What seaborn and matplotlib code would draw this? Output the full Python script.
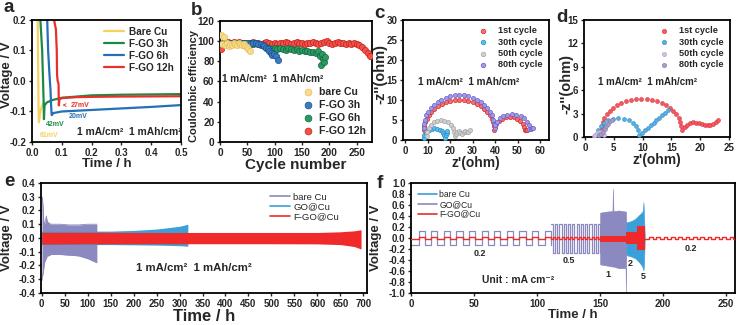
import matplotlib
matplotlib.use('Agg')
import matplotlib.pyplot as plt
from matplotlib.lines import Line2D
import numpy as np
import seaborn as sns

sns.set_theme(style='ticks')
plt.rcParams['font.family'] = ['Liberation Sans', 'DejaVu Sans']
plt.rcParams['font.weight'] = 'bold'
plt.rcParams['axes.labelweight'] = 'bold'
plt.rcParams['axes.unicode_minus'] = False
plt.rcParams['axes.linewidth'] = 1.3

# ---------------- data ----------------
# (a) voltage profiles of Li nucleation
a_bare_t = [0.019, 0.020, 0.021, 0.022, 0.023, 0.030, 0.040]
a_bare_v = [0.20, 0.10, 0.00, -0.10, -0.135, -0.09, -0.07]
a_3h_t = [0.028, 0.031, 0.034, 0.037, 0.039, 0.040, 0.042, 0.05, 0.07, 0.10, 0.20, 0.30, 0.50]
a_3h_v = [0.20, 0.15, 0.10, 0.0, -0.07, -0.125, -0.08, -0.07, -0.062, -0.055, -0.047, -0.045, -0.043]
a_6h_t = [0.051, 0.054, 0.058, 0.062, 0.064, 0.066, 0.072, 0.10, 0.20, 0.30, 0.40, 0.50]
a_6h_v = [0.20, 0.10, 0.03, -0.03, -0.08, -0.112, -0.105, -0.10, -0.095, -0.09, -0.085, -0.079]
a_12h_t = [0.074, 0.080, 0.083, 0.084, 0.086, 0.089, 0.090, 0.092, 0.10, 0.15, 0.20, 0.30, 0.50]
a_12h_v = [0.20, 0.17, 0.10, 0.02, 0.0, -0.01, -0.08, -0.06, -0.056, -0.053, -0.052, -0.051, -0.05]

# (b) coulombic efficiency
b_bare_n = [1, 4, 7, 10, 13, 16, 19, 22, 25, 28, 31, 34, 37, 40, 43, 46, 49, 52, 55]
b_bare_ce = [106, 97, 104, 96, 98, 95, 97, 96, 98, 97, 96, 98, 97, 96, 97, 95, 94, 92, 90]
b_3h_n = [1, 5, 10, 15, 20, 25, 30, 35, 40, 45, 50, 55, 60, 65, 70, 75, 78, 81, 84, 87, 90, 93, 96, 99, 102, 106]
b_3h_ce = [97, 98, 98, 97, 98, 98, 97, 98, 98, 97, 98, 97, 98, 98, 97, 97, 96, 95, 93, 92, 90, 88, 86, 87, 85, 81]
b_6h_n = [1, 5, 10, 15, 20, 25, 30, 35, 40, 45, 50, 55, 60, 65, 70, 75,
          80, 85, 90, 95, 100, 105, 110, 115, 120, 125, 130, 135, 140, 145, 150, 155, 160, 165, 170, 175, 180,
          183, 185, 186, 188, 190, 192]
b_6h_ce = [97, 98, 97, 98, 98, 97, 98, 97, 98, 98, 97, 98, 97, 98, 97, 96,
           95, 94, 93, 92, 93, 92, 93, 92, 91, 93, 92, 91, 92, 90, 91, 90, 90, 89, 89, 88, 90,
           85, 76, 87, 82, 79, 84]
b_12h_n = [1, 5, 10, 15, 20, 25, 30, 35, 40, 45, 50, 55, 60, 65, 70, 75, 80, 85, 90, 95,
           100, 105, 110, 115, 120, 125, 130, 135, 140, 145, 150, 155, 160, 165, 170, 175, 180, 185, 190, 195,
           200, 205, 210, 215, 220, 225, 230, 235, 240, 245, 250, 255, 260, 265, 270, 275]
b_12h_ce = [92, 97, 98, 99, 98, 99, 98, 99, 98, 98, 97, 98, 99, 98, 98, 97, 98, 99, 98, 97,
            98, 97, 98, 98, 99, 98, 97, 98, 99, 98, 98, 97, 98, 98, 99, 98, 97, 98, 99, 100,
            98, 97, 98, 99, 98, 98, 97, 98, 97, 98, 97, 96, 94, 91, 88, 85]

# (c) Nyquist plots, F-GO 12h
c_1st_x = [8.3, 8.44, 8.84, 9.49, 10.4, 11.54, 12.9, 14.44, 16.15, 17.99, 19.94, 21.95, 24.0, 26.05, 28.06,
           30.01, 31.85, 33.56, 35.1, 36.46, 37.6, 38.51, 39.16, 39.56, 39.7,
           39.93, 40.61, 41.69, 43.1, 44.74, 46.5, 48.26, 49.9, 51.31, 52.39, 53.07, 53.3, 53.8, 54.3]
c_1st_y = [2.5, 3.48, 4.44, 5.37, 6.25, 7.07, 7.8, 8.45, 9.0, 9.43, 9.74, 9.94, 10.0, 9.94, 9.74,
           9.43, 9.0, 8.45, 7.8, 7.07, 6.25, 5.37, 4.44, 3.48, 2.5,
           3.28, 4.1, 4.8, 5.34, 5.68, 5.8, 5.68, 5.34, 4.8, 4.1, 3.28, 2.4, 2.4, 2.5]
c_30th_x = [8.4, 8.56, 9.02, 9.75, 10.7, 11.81, 13.0, 14.19, 15.3, 16.25, 16.98, 17.44, 17.6, 18.0, 18.4, 18.8]
c_30th_y = [0.6, 1.2, 1.75, 2.23, 2.59, 2.82, 2.9, 2.82, 2.59, 2.23, 1.75, 1.2, 0.6, 1.2, 1.8, 2.2]
c_50th_x = [9.6, 9.81, 10.43, 11.42, 12.7, 14.2, 15.8, 17.4, 18.9, 20.18, 21.17, 21.79, 22.0,
            22.6, 23.2, 23.8, 24.5, 25.2, 26.0, 26.7, 27.4, 28.1, 28.8]
c_50th_y = [1.0, 2.04, 3.0, 3.83, 4.46, 4.86, 5.0, 4.86, 4.46, 3.83, 3.0, 2.04, 1.0,
            1.5, 2.0, 2.3, 1.8, 1.6, 2.0, 2.2, 1.9, 2.1, 2.5]
c_80th_x = [8.2, 8.34, 8.74, 9.4, 10.32, 11.46, 12.83, 14.38, 16.1, 17.95, 19.91, 21.94, 24.0, 26.06, 28.09,
            30.05, 31.9, 33.62, 35.17, 36.54, 37.68, 38.6, 39.26, 39.66, 39.8,
            40.06, 40.83, 42.06, 43.65, 45.51, 47.5, 49.49, 51.35, 52.94, 54.17, 54.94, 55.2, 55.8, 56.4, 57.0]
c_80th_y = [3.0, 4.07, 5.12, 6.14, 7.1, 7.99, 8.8, 9.51, 10.1, 10.58, 10.92, 11.13, 11.2, 11.13, 10.92,
            10.58, 10.1, 9.51, 8.8, 7.99, 7.1, 6.14, 5.12, 4.07, 3.0,
            3.68, 4.6, 5.39, 5.99, 6.37, 6.5, 6.37, 5.99, 5.39, 4.6, 3.68, 2.7, 2.8, 2.9, 2.9]

# (d) Nyquist plots, F-GO@Cu
d_1st_x = [2.8, 2.86, 3.04, 3.33, 3.74, 4.25, 4.85, 5.54, 6.3, 7.12, 7.99, 8.89, 9.8, 10.71, 11.61, 12.48,
           13.3, 14.06, 14.75, 15.35, 15.86, 16.27, 16.56, 16.74, 16.8,
           17.3, 17.8, 18.3, 18.8, 19.3, 19.8, 20.3, 20.8, 21.3, 21.8, 22.3, 22.8, 23.1]
d_1st_y = [0.9, 1.42, 1.94, 2.43, 2.9, 3.34, 3.73, 4.07, 4.36, 4.6, 4.76, 4.87, 4.9, 4.87, 4.76, 4.6,
           4.36, 4.07, 3.73, 3.34, 2.9, 2.43, 1.94, 1.42, 0.9,
           1.3, 1.6, 1.8, 1.9, 1.85, 1.75, 1.65, 1.55, 1.5, 1.55, 1.7, 1.95, 2.15]
d_30th_x = [2.2, 2.32, 2.68, 3.25, 4.0, 4.87, 5.8, 6.73, 7.6, 8.35, 8.92, 9.28, 9.4,
            9.9, 10.4, 10.9, 11.4, 11.9, 12.4, 12.9, 13.4, 13.9, 14.4]
d_30th_y = [0.3, 0.84, 1.35, 1.78, 2.12, 2.33, 2.4, 2.33, 2.12, 1.78, 1.35, 0.84, 0.3,
            0.52, 0.84, 1.16, 1.48, 1.8, 2.12, 2.44, 2.76, 3.08, 3.4]
d_50th_x = [1.5, 1.8, 2.1, 2.4, 2.7, 3.0, 3.3]
d_50th_y = [0.1, 0.3, 0.5, 0.7, 0.6, 0.4, 0.2]
d_80th_x = [2.4, 2.8, 3.1, 3.4, 3.7, 4.0, 4.3, 4.6]
d_80th_y = [0.2, 0.4, 0.7, 1.0, 1.4, 1.7, 2.0, 2.2]

# (e) long-term cycling, voltage envelopes
e_bare_t = [0.5, 1.5, 3, 4.5, 6, 8, 10, 12, 15, 20, 40, 60, 80, 100, 110, 120]
e_bare_hi = [0.30, 0.29, 0.22, 0.12, 0.10, 0.12, 0.16, 0.12, 0.11, 0.10, 0.10, 0.095, 0.095, 0.10, 0.10, 0.10]
e_bare_lo = [-0.31, -0.28, -0.26, -0.22, -0.18, -0.16, -0.15, -0.13, -0.13, -0.12, -0.12, -0.125, -0.13, -0.15, -0.165, -0.18]
e_go_t = [0, 120, 150, 200, 250, 300, 318]
e_go_hi = [0.05, 0.05, 0.05, 0.055, 0.065, 0.085, 0.10]
e_go_lo = [-0.048, -0.048, -0.048, -0.05, -0.052, -0.056, -0.06]
e_fgo_t = [0, 100, 200, 300, 400, 500, 600, 650, 680, 695]
e_fgo_hi = [0.042, 0.042, 0.04, 0.04, 0.04, 0.04, 0.04, 0.045, 0.052, 0.06]
e_fgo_lo = [-0.045, -0.043, -0.042, -0.042, -0.042, -0.042, -0.043, -0.048, -0.062, -0.08]

# (f) rate test: switching times of the square waves and dense envelopes
f_sw_02 = [0, 6, 11, 16, 21, 26, 31, 36, 41, 46, 51, 56, 61, 66, 71, 76, 81, 86, 91, 96, 101, 106, 111]
f_sw_05 = [111, 112.7, 114.4, 116.1, 117.8, 119.5, 121.2, 122.9, 124.6, 126.3, 128.0, 129.7, 131.4, 133.1,
           134.8, 136.5, 138.2, 139.9, 141.6, 143.3, 145.0, 146.7, 148.4, 150.0]
f_sw_late = [186, 188.9, 191.8, 194.7, 197.6, 200.5, 203.4, 206.3, 209.2, 212.1, 215.0, 217.9, 220.8, 223.7,
             226.6, 229.5, 232.4, 235.3, 238.2, 241.1, 244.0, 246.9, 249.8, 252.7, 255.6, 258.5, 261.0]
f_go_lv_02 = [-0.125, 0.125]
f_go_lv_05 = [0.25, -0.27]
f_red_lv = [-0.025, 0.02]
f_go_band_t = [150.0, 155.0, 159.8, 160.2, 160.6, 165.0, 170.2, 170.5, 170.8]
f_go_band_hi = [0.46, 0.48, 0.49, 0.90, 0.49, 0.50, 0.48, 0.48, 0.30]
f_go_band_lo = [-0.48, -0.50, -0.52, -0.52, -0.52, -0.55, -0.55, -1.00, -0.30]
f_bare_band_t = [170.8, 172, 175, 178, 181, 183, 184.0, 184.4, 184.8, 185.5]
f_bare_band_hi = [0.28, 0.29, 0.31, 0.35, 0.42, 0.46, 0.50, 0.65, 0.45, 0.0]
f_bare_band_lo = [-0.30, -0.32, -0.34, -0.37, -0.44, -0.50, -0.55, -0.59, -0.50, 0.0]
f_red_band_t = [150, 170.5, 179.5, 186]
f_red_band_hi = [0.04, 0.11, 0.22, 0.22]
f_red_band_lo = [-0.08, -0.11, -0.21, -0.21]
f_rate_txt = ['0.2', '0.5', '1', '2', '5', '0.2']
f_rate_x = [55, 125, 156, 174, 184, 222]
f_rate_y = [-0.29, -0.41, -0.67, -0.47, -0.70, -0.20]

YEL, GRN, BLU, RED = '#f6d160', '#1b8a48', '#2470b6', '#e8302a'
PUR, LBLU, RED2 = '#8c89c0', '#3ba0d9', '#f02a2a'
COND = '1 mA/cm²  1 mAh/cm²'


def style(ax, fs=7):
    ax.tick_params(direction='out', length=2.5, width=1, pad=1.5, labelsize=fs)
    for s in ax.spines.values():
        s.set_linewidth(1.3)
        s.set_color('black')


def square(sw, levels):
    return sw, np.resize(levels, len(sw))


fig = plt.figure(figsize=(7.38, 3.25), dpi=100)

# ---------------- (a) ----------------
ax = fig.add_axes([0.0434, 0.5631, 0.2019, 0.3754])
for t, v, c, lab in [(a_bare_t, a_bare_v, YEL, 'Bare Cu'), (a_3h_t, a_3h_v, GRN, 'F-GO 3h'),
                     (a_6h_t, a_6h_v, BLU, 'F-GO 6h'), (a_12h_t, a_12h_v, RED, 'F-GO 12h')]:
    sns.lineplot(x=t, y=v, ax=ax, color=c, lw=1.6, sort=False, estimator=None, label=lab)
ax.set_xlim(0, 0.5)
ax.set_ylim(-0.2, 0.2)
ax.set_xticks([0, 0.1, 0.2, 0.3, 0.4, 0.5])
ax.set_yticks([-0.2, -0.1, 0.0, 0.1, 0.2])
ax.set_xlabel('Time / h', fontsize=9.5, labelpad=0.5)
ax.set_ylabel('Voltage / V', fontsize=9.5)
ax.yaxis.set_label_coords(-0.125, 0.55)
ax.legend(loc='upper right', frameon=False, fontsize=7.2, handlelength=2.0, handletextpad=0.5,
          labelspacing=0.2, borderaxespad=0.3)
ax.text(0.026, -0.178, '61mV', color=YEL, fontsize=5, va='center')
ax.text(0.045, -0.142, '42mV', color=GRN, fontsize=5, va='center')
ax.text(0.122, -0.115, '20mV', color=BLU, fontsize=5, va='center')
ax.annotate('27mV', xy=(0.093, -0.079), xytext=(0.13, -0.079), color=RED, fontsize=5, va='center',
            arrowprops=dict(arrowstyle='->', color=RED, lw=0.6))
ax.text(0.325, -0.166, COND, fontsize=7.4, ha='center', va='center')
style(ax, 7)

# ---------------- (b) ----------------
ax = fig.add_axes([0.2981, 0.5631, 0.2060, 0.3723])
b_series = [(b_12h_n, b_12h_ce, '#f0524a', '#c8201c', 'F-GO 12h'),
            (b_6h_n, b_6h_ce, '#2a9a63', '#12683f', 'F-GO 6h'),
            (b_3h_n, b_3h_ce, '#3a7cc2', '#1c4f8c', 'F-GO 3h'),
            (b_bare_n, b_bare_ce, '#f8dc8c', '#e8bf5a', 'bare Cu')]
for n, ce, fc, ec, lab in b_series:
    sns.scatterplot(x=n, y=ce, ax=ax, color=fc, edgecolor=ec, linewidth=0.5, s=20, label=lab, zorder=3)
ax.set_xlim(0, 278)
ax.set_ylim(0, 120)
ax.set_xticks([0, 50, 100, 150, 200, 250])
ax.set_yticks([0, 20, 40, 60, 80, 100, 120])
ax.set_xlabel('Cycle number', fontsize=11, labelpad=0)
ax.set_ylabel('Coulombic efficiency', fontsize=8)
ax.yaxis.set_label_coords(-0.14, 0.46)
h, l = ax.get_legend_handles_labels()
ax.legend(h[::-1], l[::-1], loc='lower right', frameon=False, fontsize=7.6, handletextpad=0.1,
          labelspacing=0.3, borderaxespad=0.15, markerscale=1.1)
ax.text(4, 62, COND, fontsize=7.2, va='center')
style(ax, 7.3)

# ---------------- (c) ----------------
ax = fig.add_axes([0.5461, 0.5692, 0.1978, 0.3692])
c_series = [(c_1st_x, c_1st_y, '#f37070', '#d42a2a', '1st cycle'),
            (c_30th_x, c_30th_y, '#5bbde8', '#2a8fc8', '30th cycle'),
            (c_50th_x, c_50th_y, '#cfcfcf', '#a6a6a6', '50th cycle'),
            (c_80th_x, c_80th_y, '#a39ae6', '#6a5fc8', '80th cycle')]
for x, y, fc, ec, lab in c_series:
    sns.scatterplot(x=x, y=y, ax=ax, color=fc, edgecolor=ec, linewidth=0.5, s=9, label=lab, zorder=3)
ax.set_xlim(-1, 64)
ax.set_ylim(0, 30)
ax.set_xticks([0, 10, 20, 30, 40, 50, 60])
ax.set_yticks([0, 5, 10, 15, 20, 25, 30])
ax.set_xlabel("z'(ohm)", fontsize=10, labelpad=0)
ax.set_ylabel("-z''(ohm)", fontsize=10.5)
ax.yaxis.set_label_coords(-0.11, 0.55)
ax.legend(loc='upper right', frameon=False, fontsize=6.6, handletextpad=0.6, labelspacing=0.25,
          borderaxespad=0.3, markerscale=1.1)
ax.text(5.5, 14.6, COND, fontsize=7.2, va='center')
style(ax, 7)

# ---------------- (d) ----------------
ax = fig.add_axes([0.7913, 0.5785, 0.1978, 0.36])
d_series = [(d_1st_x, d_1st_y, '#f05a62', '#e02a36', '1st cycle'),
            (d_30th_x, d_30th_y, '#5aaee0', '#2f8ccb', '30th cycle'),
            (d_50th_x, d_50th_y, '#d2bfe0', '#b79dcc', '50th cycle'),
            (d_80th_x, d_80th_y, '#a49dc8', '#8079ab', '80th cycle')]
for x, y, fc, ec, lab in d_series:
    sns.scatterplot(x=x, y=y, ax=ax, color=fc, edgecolor=ec, linewidth=0.4, s=8, label=lab, zorder=3)
ax.set_xlim(-0.2, 25.2)
ax.set_ylim(0, 15)
ax.set_xticks([0, 5, 10, 15, 20, 25])
ax.set_yticks([0, 3, 6, 9, 12, 15])
ax.set_xlabel("z'(ohm)", fontsize=10, labelpad=0)
ax.set_ylabel("-z''(ohm)", fontsize=10.5)
ax.yaxis.set_label_coords(-0.075, 0.45)
ax.legend(loc='upper right', frameon=False, fontsize=6.6, handletextpad=0.6, labelspacing=0.25,
          borderaxespad=0.3, markerscale=1.1)
ax.text(2.3, 7.1, COND, fontsize=7.0, va='center')
style(ax, 7)

# ---------------- (e) ----------------
ax = fig.add_axes([0.0556, 0.0985, 0.4417, 0.3385])
ax.fill_between(e_bare_t, e_bare_lo, e_bare_hi, color=PUR, lw=0, zorder=2)
ax.fill_between(e_go_t, e_go_lo, e_go_hi, color=LBLU, lw=0, zorder=3)
ax.fill_between(e_fgo_t, e_fgo_lo, e_fgo_hi, color=RED2, lw=0, zorder=4)
sns.lineplot(x=e_bare_t, y=e_bare_hi, ax=ax, color=PUR, lw=0.6, sort=False, estimator=None, zorder=2)
sns.lineplot(x=e_bare_t, y=e_bare_lo, ax=ax, color=PUR, lw=0.6, sort=False, estimator=None, zorder=2)
ax.set_xlim(-1.5, 708)
ax.set_ylim(-0.4, 0.4)
ax.set_xticks(range(0, 701, 50))
ax.set_yticks([-0.4, -0.3, -0.2, -0.1, 0.0, 0.1, 0.2, 0.3, 0.4])
ax.set_xlabel('Time / h', fontsize=12, labelpad=0)
ax.set_ylabel('Voltage / V', fontsize=9.5)
ax.yaxis.set_label_coords(-0.085, 0.5)
hd = [Line2D([], [], color=c, lw=1.2) for c in (PUR, LBLU, RED2)]
ax.legend(hd, ['bare Cu', 'GO@Cu', 'F-GO@Cu'], loc='upper right', bbox_to_anchor=(0.94, 0.99), frameon=False,
          prop=dict(size=6.8, weight='normal'), handlelength=2.2, handletextpad=0.3, labelspacing=0.1)
ax.text(330, -0.22, COND, fontsize=8.2, ha='center', va='center')
style(ax, 7)

# ---------------- (f) ----------------
ax = fig.add_axes([0.5569, 0.0985, 0.4390, 0.3385])
t, v = square(f_sw_02, f_go_lv_02)
sns.lineplot(x=t, y=v, ax=ax, color=PUR, lw=0.9, sort=False, estimator=None, drawstyle='steps-post', zorder=2)
t, v = square(f_sw_05, f_go_lv_05)
sns.lineplot(x=t, y=v, ax=ax, color=PUR, lw=0.9, sort=False, estimator=None, drawstyle='steps-post', zorder=2)
ax.fill_between(f_go_band_t, f_go_band_lo, f_go_band_hi, color=PUR, lw=0.4, edgecolor=PUR, zorder=2)
ax.fill_between(f_bare_band_t, f_bare_band_lo, f_bare_band_hi, color=LBLU, lw=0.4, edgecolor=LBLU, zorder=2)
ax.fill_between(f_red_band_t, f_red_band_lo, f_red_band_hi, color=RED2, lw=0, step='post', zorder=4)
for sw in (f_sw_02, f_sw_05, f_sw_late):
    t, v = square(sw, f_red_lv)
    sns.lineplot(x=t, y=v, ax=ax, color=RED2, lw=1.0, sort=False, estimator=None, drawstyle='steps-post', zorder=4)
ax.set_xlim(0, 257)
ax.set_ylim(-1.0, 1.0)
ax.set_xticks([0, 50, 100, 150, 200, 250])
ax.set_yticks(np.round(np.arange(-1.0, 1.01, 0.2), 1))
ax.set_xlabel('Time / h', fontsize=9.5, labelpad=0)
ax.set_ylabel('Voltage / V', fontsize=9.5)
ax.yaxis.set_label_coords(-0.088, 0.5)
hd = [Line2D([], [], color=c, lw=1.2) for c in (LBLU, PUR, RED2)]
ax.legend(hd, ['bare Cu', 'GO@Cu', 'F-GO@Cu'], loc='upper left', frameon=False,
          prop=dict(size=6.2, weight='normal'), handlelength=2.2, handletextpad=0.3, labelspacing=0.1,
          borderaxespad=0.4)
for s, x, y in zip(f_rate_txt, f_rate_x, f_rate_y):
    ax.text(x, y, s, fontsize=6.5, ha='center', va='center')
ax.text(85, -0.76, 'Unit : mA cm⁻²', fontsize=7.4, ha='center', va='center')
style(ax, 7)

# panel letters
for s, x, y in [('a', 3, 12), ('b', 191, 15), ('c', 374, 18), ('d', 556, 22), ('e', 4, 186), ('f', 377, 188)]:
    fig.text(x / 738, 1 - y / 325, s, fontsize=13.5, fontweight='bold', va='baseline')

fig.savefig('out.png', dpi=100)
